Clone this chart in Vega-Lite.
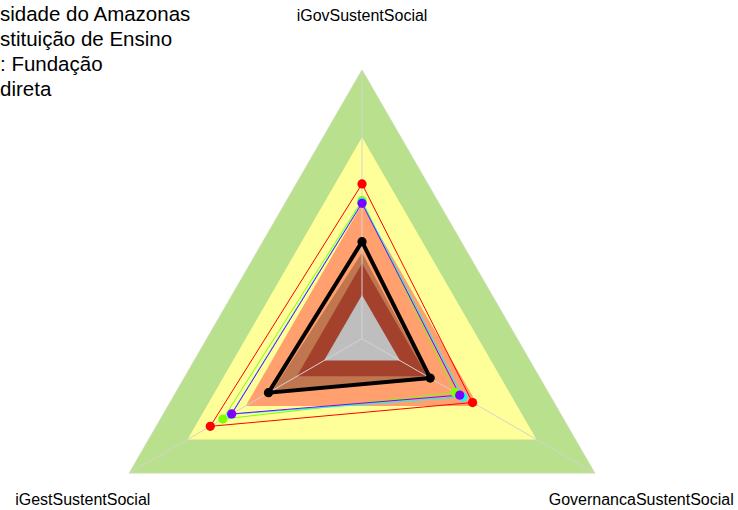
{
  "$schema": "https://vega.github.io/schema/vega-lite/v6.json",
  "width": 738,
  "height": 510,
  "autosize": {"type": "none"},
  "padding": 0,
  "background": "white",
  "config": {"view": {"stroke": null}},
  "title": {
    "text": ["sidade do Amazonas", "stituição de Ensino", ": Fundação", "direta"],
    "anchor": "start",
    "frame": "group",
    "orient": "top",
    "offset": -100,
    "baseline": "top",
    "font": "Liberation Sans",
    "fontSize": 20.5,
    "fontWeight": "normal",
    "lineHeight": 25,
    "color": "#000000"
  },
  "data": {
    "values": [
      {"group": "b1", "axis": "iGovSustentSocial", "value": 1},
      {"group": "b1", "axis": "GovernancaSustentSocial", "value": 1},
      {"group": "b1", "axis": "iGestSustentSocial", "value": 1},
      {"group": "b2", "axis": "iGovSustentSocial", "value": 0.75},
      {"group": "b2", "axis": "GovernancaSustentSocial", "value": 0.75},
      {"group": "b2", "axis": "iGestSustentSocial", "value": 0.75},
      {"group": "b3", "axis": "iGovSustentSocial", "value": 0.5},
      {"group": "b3", "axis": "GovernancaSustentSocial", "value": 0.5},
      {"group": "b3", "axis": "iGestSustentSocial", "value": 0.5},
      {"group": "b4", "axis": "iGovSustentSocial", "value": 0.32},
      {"group": "b4", "axis": "GovernancaSustentSocial", "value": 0.285},
      {"group": "b4", "axis": "iGestSustentSocial", "value": 0.385},
      {"group": "b5", "axis": "iGovSustentSocial", "value": 0.28},
      {"group": "b5", "axis": "GovernancaSustentSocial", "value": 0.28},
      {"group": "b5", "axis": "iGestSustentSocial", "value": 0.28},
      {"group": "b6", "axis": "iGovSustentSocial", "value": 0.163},
      {"group": "b6", "axis": "GovernancaSustentSocial", "value": 0.163},
      {"group": "b6", "axis": "iGestSustentSocial", "value": 0.163},
      {"group": "s1", "axis": "iGovSustentSocial", "value": 0.576},
      {"group": "s1", "axis": "GovernancaSustentSocial", "value": 0.475},
      {"group": "s1", "axis": "iGestSustentSocial", "value": 0.652},
      {"group": "s2", "axis": "iGovSustentSocial", "value": 0.514},
      {"group": "s2", "axis": "GovernancaSustentSocial", "value": 0.4},
      {"group": "s2", "axis": "iGestSustentSocial", "value": 0.598},
      {"group": "s3", "axis": "iGovSustentSocial", "value": 0.508},
      {"group": "s3", "axis": "GovernancaSustentSocial", "value": 0.433},
      {"group": "s3", "axis": "iGestSustentSocial", "value": 0.563},
      {"group": "s4", "axis": "iGovSustentSocial", "value": 0.504},
      {"group": "s4", "axis": "GovernancaSustentSocial", "value": 0.42},
      {"group": "s4", "axis": "iGestSustentSocial", "value": 0.56},
      {"group": "s5", "axis": "iGovSustentSocial", "value": 0.361},
      {"group": "s5", "axis": "GovernancaSustentSocial", "value": 0.293},
      {"group": "s5", "axis": "iGestSustentSocial", "value": 0.402}
    ]
  },
  "transform": [
    {"calculate": "indexof(['iGovSustentSocial','GovernancaSustentSocial','iGestSustentSocial'], datum.axis)", "as": "idx"},
    {"calculate": "datum.value * sin(datum.idx * 2 * PI / 3)", "as": "px"},
    {"calculate": "datum.value * cos(datum.idx * 2 * PI / 3)", "as": "py"}
  ],
  "encoding": {
    "x": {"field": "px", "type": "quantitative", "scale": {"domain": [-1.3473, 1.3993], "nice": false, "zero": false}, "axis": null},
    "y": {"field": "py", "type": "quantitative", "scale": {"domain": [-0.6375, 1.2605], "nice": false, "zero": false}, "axis": null},
    "order": {"field": "idx", "type": "quantitative"}
  },
  "layer": [
    {"transform": [{"filter": "datum.group === 'b1'"}], "mark": {"type": "line", "interpolate": "linear-closed", "fill": "#B9E08C", "stroke": "#C8DDB0", "strokeWidth": 1}},
    {"transform": [{"filter": "datum.group === 'b2'"}], "mark": {"type": "line", "interpolate": "linear-closed", "fill": "#FFFF99", "strokeWidth": 0}},
    {"transform": [{"filter": "datum.group === 'b3'"}], "mark": {"type": "line", "interpolate": "linear-closed", "fill": "#FFA06E", "strokeWidth": 0}},
    {"transform": [{"filter": "datum.group === 'b4'"}], "mark": {"type": "line", "interpolate": "linear-closed", "fill": "#C0764E", "strokeWidth": 0}},
    {"transform": [{"filter": "datum.group === 'b5'"}], "mark": {"type": "line", "interpolate": "linear-closed", "fill": "#A4412C", "strokeWidth": 0}},
    {"transform": [{"filter": "datum.group === 'b6'"}], "mark": {"type": "line", "interpolate": "linear-closed", "fill": "#BEBEBE", "strokeWidth": 0}},
    {
      "transform": [{"filter": "datum.group === 'b1'"}],
      "mark": {"type": "rule", "color": "#D3D3D3", "strokeWidth": 1},
      "encoding": {"x2": {"datum": 0}, "y2": {"datum": 0}}
    },
    {
      "transform": [{"filter": "datum.group === 's1' || datum.group === 's2' || datum.group === 's3' || datum.group === 's4'"}],
      "mark": {"type": "line", "interpolate": "linear-closed", "strokeWidth": 1},
      "encoding": {
        "color": {"field": "group", "type": "nominal", "scale": {"domain": ["s1", "s2", "s3", "s4", "s5"], "range": ["#FF0000", "#80FF00", "#00FFFF", "#8000FF", "#000000"]}, "legend": null}
      }
    },
    {
      "transform": [{"filter": "datum.group === 's1' || datum.group === 's2' || datum.group === 's3' || datum.group === 's4'"}],
      "mark": {"type": "circle", "size": 85, "opacity": 1},
      "encoding": {
        "color": {"field": "group", "type": "nominal", "scale": {"domain": ["s1", "s2", "s3", "s4", "s5"], "range": ["#FF0000", "#80FF00", "#00FFFF", "#8000FF", "#000000"]}, "legend": null}
      }
    },
    {
      "transform": [{"filter": "datum.group === 's5'"}],
      "mark": {"type": "line", "interpolate": "linear-closed", "strokeWidth": 4, "color": "#000000"}
    },
    {
      "transform": [{"filter": "datum.group === 's5'"}],
      "mark": {"type": "circle", "size": 85, "opacity": 1, "color": "#000000"}
    },
    {
      "transform": [
        {"filter": "datum.group === 'b1'"},
        {"calculate": "1.2 * datum.px", "as": "lx"},
        {"calculate": "1.2 * datum.py", "as": "ly"}
      ],
      "mark": {"type": "text", "font": "Liberation Sans", "fontSize": 16, "align": "center", "baseline": "middle", "color": "#000000"},
      "encoding": {
        "x": {"field": "lx", "type": "quantitative"},
        "y": {"field": "ly", "type": "quantitative"},
        "text": {"field": "axis", "type": "nominal"}
      }
    }
  ]
}
